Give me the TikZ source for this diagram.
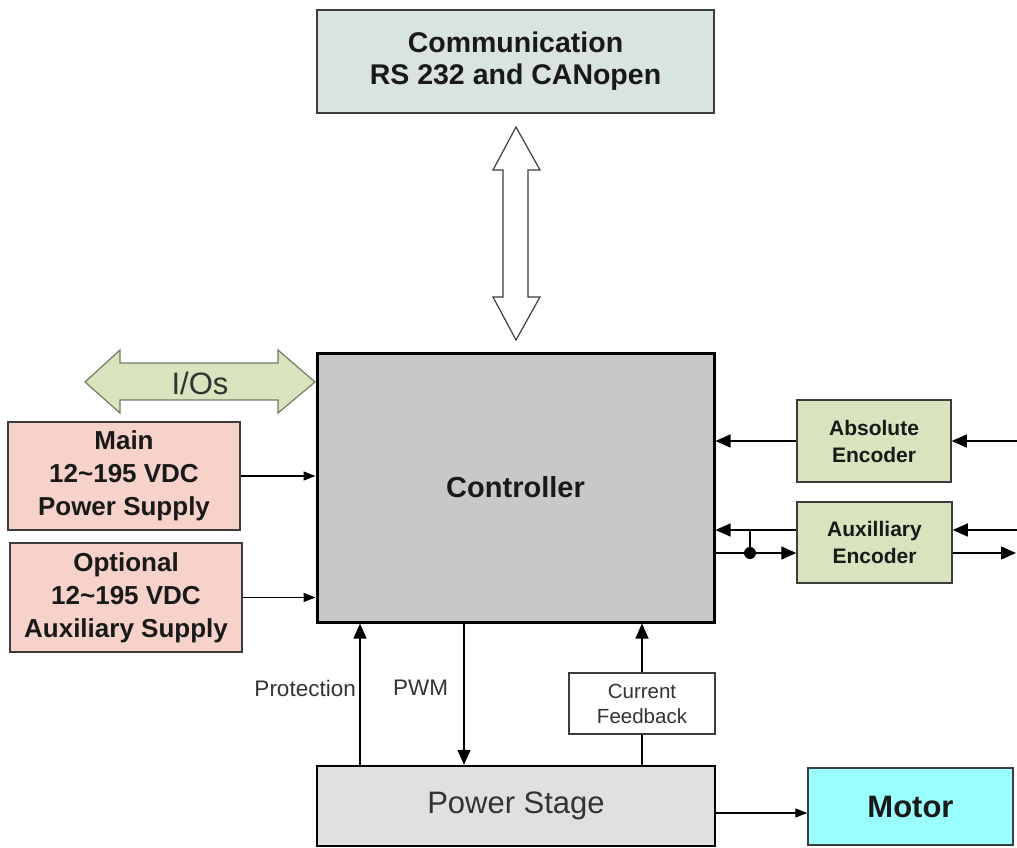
\documentclass[tikz,border=0pt]{standalone}
\usepackage{fontspec}
\setmainfont{Liberation Sans}
\usetikzlibrary{arrows.meta}
\definecolor{commfill}{RGB}{218,228,222}
\definecolor{ctrlfill}{RGB}{200,200,200}
\definecolor{pinkfill}{RGB}{246,210,202}
\definecolor{greenfill}{RGB}{215,228,189}
\definecolor{greenedge}{RGB}{110,125,100}
\definecolor{psfill}{RGB}{224,224,224}
\definecolor{motorfill}{RGB}{153,255,255}
\definecolor{edge}{RGB}{60,60,60}
\definecolor{txt}{RGB}{25,25,25}
\begin{document}
\begin{tikzpicture}[x=1pt,y=-1pt,
  box/.style={draw=edge, line width=1.5pt, inner sep=0pt, align=center, text=txt},
  arr/.style={line width=1.2pt, -{Triangle[length=12pt,width=9pt]}},
  bigarr/.style={line width=1.3pt, -{Triangle[length=15pt,width=13pt]}},
  ln/.style={line width=1.3pt},
  blockarrow/.style={line width=1.2pt, line join=miter}
]
\useasboundingbox (0,0) rectangle (1017,848);

% boxes
\node[box, fill=commfill, minimum width=397pt, minimum height=103pt,
      font=\fontsize{28.5}{32}\selectfont\bfseries] (comm) at (515.5,61.5)
      {Communication\\RS 232 and CANopen};
\node[box, fill=ctrlfill, draw=black, line width=3pt, minimum width=397pt, minimum height=269pt,
      font=\fontsize{29}{34}\selectfont\bfseries] (ctrl) at (515.5,487.5) {Controller};
\node[box, fill=pinkfill, minimum width=232pt, minimum height=108pt,
      font=\fontsize{26}{33}\selectfont\bfseries] (main) at (124,476)
      {Main\\12\char`\~195 VDC\\Power Supply};
\node[box, fill=pinkfill, minimum width=232pt, minimum height=109pt,
      font=\fontsize{26}{33}\selectfont\bfseries] (opt) at (126,597.5)
      {Optional\\12\char`\~195 VDC\\Auxiliary Supply};
\node[box, fill=greenfill, minimum width=154pt, minimum height=82pt,
      font=\fontsize{21}{27}\selectfont\bfseries] (abs) at (874,441)
      {Absolute\\Encoder};
\node[box, fill=greenfill, minimum width=155pt, minimum height=81pt,
      font=\fontsize{21}{27}\selectfont\bfseries] (aux) at (874.5,542.5)
      {Auxilliary\\Encoder};
\node[box, fill=psfill, draw=black, line width=2.5pt, minimum width=398pt, minimum height=80pt,
      font=\fontsize{31}{36}\selectfont, text=black!80] (ps) at (516,806) {Power Stage};
\node[box, fill=white, line width=1.2pt, minimum width=146pt, minimum height=61pt,
      font=\fontsize{20.5}{25}\selectfont, text=black!80] (cf) at (642,703.5)
      {Current\\Feedback};
\node[box, fill=motorfill, minimum width=205pt, minimum height=77pt,
      font=\fontsize{31}{36}\selectfont\bfseries] (motor) at (910.5,806.5) {Motor};

% block arrows
\draw[blockarrow, draw=edge, fill=white]
  (516,127) -- (540,170) -- (528,170) -- (528,297) -- (540,297) -- (516,340)
  -- (493,297) -- (503,297) -- (503,170) -- (493,170) -- cycle;
\draw[blockarrow, draw=greenedge, fill=greenfill]
  (85,382) -- (120,350) -- (120,363) -- (278,363) -- (278,350) -- (315,382)
  -- (278,413) -- (278,400) -- (120,400) -- (120,413) -- cycle;
\node[font=\fontsize{31}{36}\selectfont, text=black!80] (ios) at (200,383) {I/Os};

% supply arrows
\draw[arr] (main.east) -- (main.east -| ctrl.west);
\draw[arr] (opt.east) -- (opt.east -| ctrl.west);

% encoders
\coordinate (absin) at (1017,441);
\draw[bigarr] (abs.west) -- (abs.west -| ctrl.east);
\draw[bigarr] (absin) -- (abs.east);

\coordinate (auxin) at (1017,530);
\coordinate (auxout) at (1016,553);
\coordinate (tap) at (750,553);
\draw[bigarr] (aux.west |- auxin) -- (ctrl.east |- auxin);
\draw[bigarr] (ctrl.east |- auxout) -- (aux.west |- auxout);
\draw[ln] (tap) -- (tap |- auxin);
\fill (tap) circle (6pt);
\draw[bigarr] (auxin) -- (aux.east |- auxin);
\draw[bigarr] (aux.east |- auxout) -- (auxout);

% controller <-> power stage
\coordinate (protx) at (360,0);
\coordinate (pwmx) at (464,0);
\draw[bigarr] (ps.north -| protx) -- (ctrl.south -| protx);
\draw[bigarr] (ctrl.south -| pwmx) -- (ps.north -| pwmx);
\draw[ln] (ps.north -| cf) -- (cf.south);
\draw[bigarr] (cf.north) -- (cf.north |- ctrl.south);
\node[anchor=east, font=\fontsize{22.5}{26}\selectfont, text=black!80, inner sep=0pt] (protl) at (356,688) {Protection};
\node[anchor=west, font=\fontsize{22.5}{26}\selectfont, text=black!80, inner sep=0pt] (pwml) at (393,688) {PWM};

% motor
\coordinate (my) at (0,813);
\draw[arr] (ps.east |- my) -- (motor.west |- my);
\end{tikzpicture}
\end{document}
